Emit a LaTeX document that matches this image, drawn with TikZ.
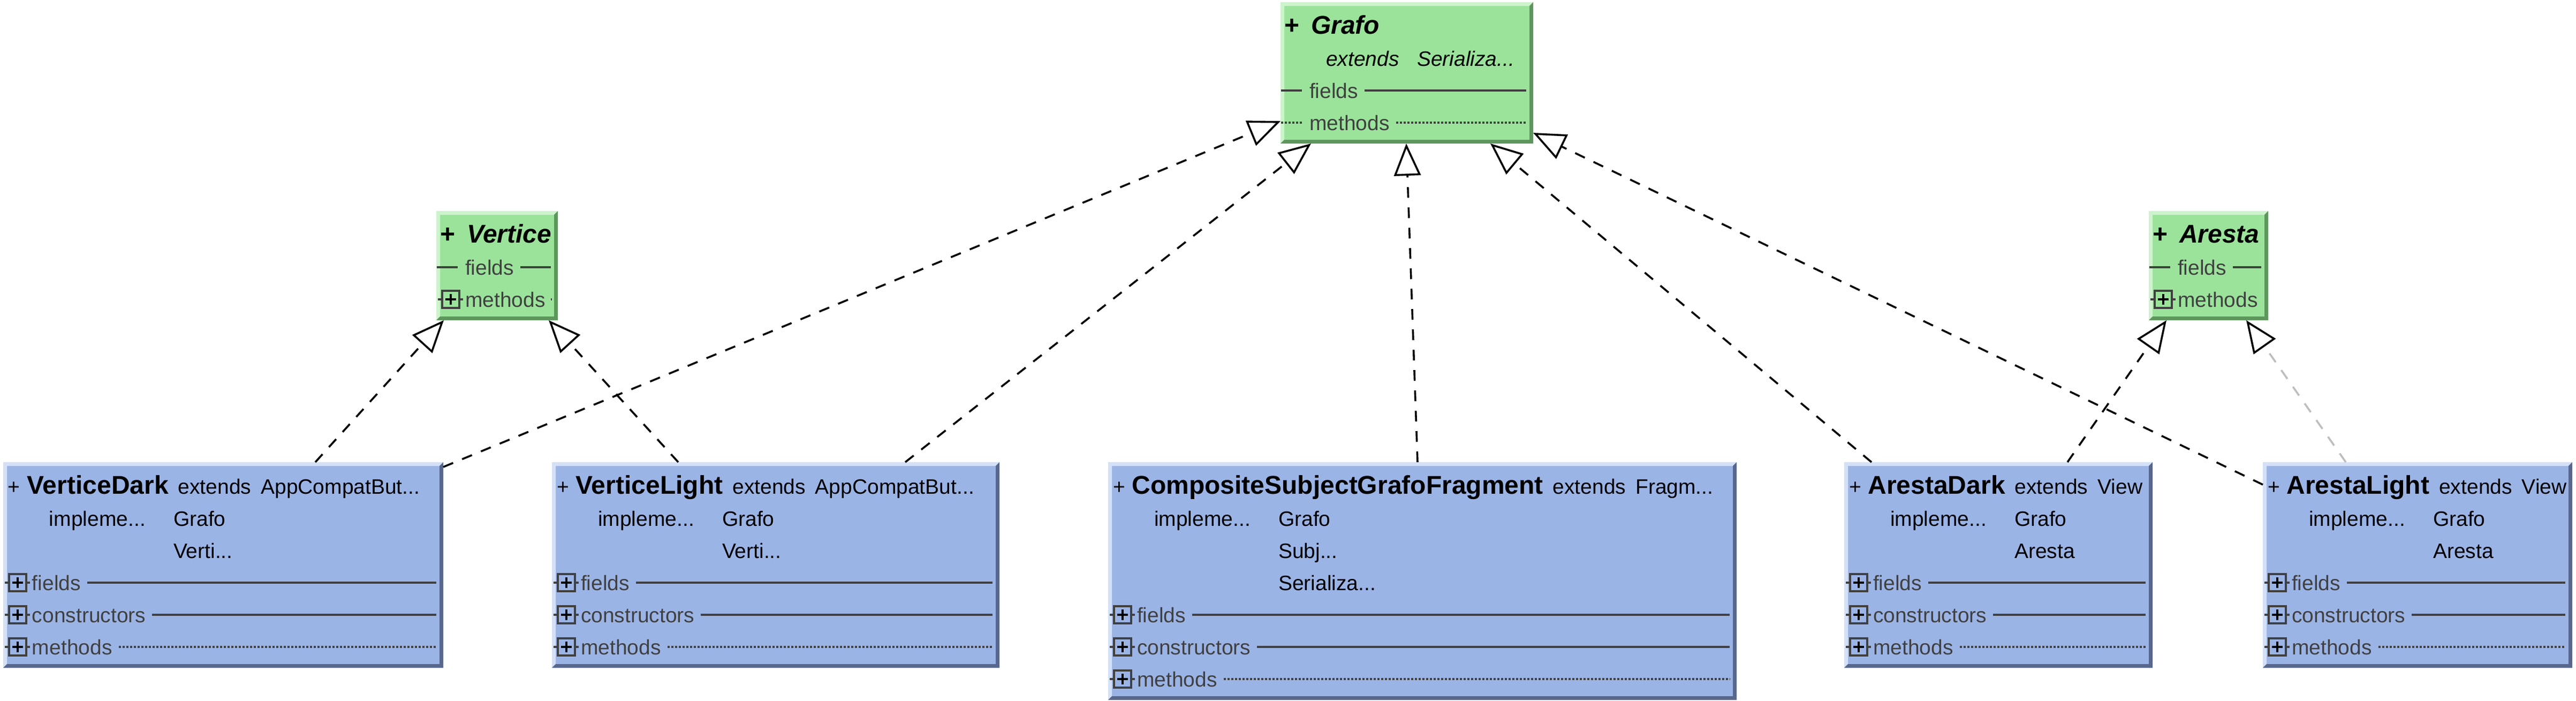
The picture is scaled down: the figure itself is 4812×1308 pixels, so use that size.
\documentclass[tikz,border=0pt]{standalone}
\usepackage{fontspec}
\setmainfont{Liberation Sans}
\usetikzlibrary{arrows.meta,calc}

\definecolor{gfill}{RGB}{155,227,155}
\definecolor{glight}{RGB}{205,243,205}
\definecolor{gdark}{RGB}{94,150,94}
\definecolor{bfill}{RGB}{155,180,230}
\definecolor{blight}{RGB}{212,224,247}
\definecolor{bdark}{RGB}{88,103,140}
\definecolor{secgray}{RGB}{64,64,64}
\definecolor{lightconn}{RGB}{190,190,190}

\newcommand{\normsz}{\fontsize{9.75pt}{11pt}\selectfont}
\newcommand{\namesz}{\fontsize{12pt}{14pt}\selectfont\bfseries}

\tikzset{
  txt/.style={inner sep=0pt, outer sep=0pt, font=\normsz, text=black},
  sectext/.style={txt, text=secgray},
  secline/.style={draw=secgray, line width=0.9pt},
  dotline/.style={dash pattern=on 1pt off 0.75pt},
  impl/.style={draw=black, line width=0.9pt, dash pattern=on 5pt off 4.5pt,
    -{Triangle[open, length=15pt, width=12.5pt, line width=0.9pt]}},
  impllight/.style={draw=lightconn, line width=0.9pt, dash pattern=on 5pt off 4.5pt,
    -{Triangle[open, length=15pt, width=12.5pt, line width=0.9pt, color=black]}}
}

% #1 name, #2 x1, #3 y1, #4 x2, #5 rows, #6 colour prefix
\newcommand{\umlbox}[6]{%
  \pgfmathsetmacro{\ybot}{#3+84+60*(#5-1)}%
  \node[anchor=north west, inner sep=0pt, outer sep=0pt,
        minimum width={(#4-#2)*0.25pt}, minimum height={(\ybot-#3)*0.25pt},
        fill=#6fill] (#1) at (#2,#3) {};
  \fill[#6light] (#2,#3) -- (#4,#3) -- (#4-7,#3+7) -- (#2+7,#3+7) -- (#2+7,\ybot-7) -- (#2,\ybot) -- cycle;
  \fill[#6dark] (#4,#3) -- (#4,\ybot) -- (#2,\ybot) -- (#2+7,\ybot-7) -- (#4-7,\ybot-7) -- (#4-7,#3+7) -- cycle;
}

% prefixes: #1 box x1, #2 baseline
\newcommand{\pfxplus}[2]{%
  \draw[secline] (#1+3,#2-14) -- (#1+11,#2-14) (#1+43,#2-14) -- (#1+50,#2-14);
  \draw[secline, line width=0.85pt] (#1+11,#2-30) rectangle (#1+43,#2+2);
  \draw[black, line width=1pt] (#1+17,#2-14) -- (#1+37,#2-14) (#1+27,#2-24) -- (#1+27,#2-4);
}
\newcommand{\pfxbar}[2]{\draw[secline] (#1+1,#2-14) -- (#1+40,#2-14);}
\newcommand{\pfxdots}[2]{\draw[secline,dotline] (#1+1,#2-14) -- (#1+40,#2-14);}

% #1 name, #2 x1, #3 x2, #4 baseline, #5 label, #6 prefix macro, #7 line style
\newcommand{\umlsect}[7]{%
  #6{#2}{#4}
  \node[sectext, anchor=base west] (#1) at (#2+54,#4) {#5};
  \draw[secline,#7] ($(#1.base east)+(12,-14)$) -- (#3-13,#4-14);
}

% #1 name, #2 x1, #3 baseline, #4 class, #5 superclass
\newcommand{\hdrblue}[5]{%
  \node[txt, anchor=base west] (#1) at (#2+9,#3)
    {+\hspace{3.2pt}{\namesz #4}\hspace{4.5pt}extends\hspace{4.5pt}#5};
}
% #1 name, #2 x1, #3 baseline, #4 interface
\newcommand{\hdrgreen}[4]{%
  \node[txt, anchor=base west] (#1) at (#2+7,#3)
    {{\namesz +}\hspace{5.5pt}{\namesz\itshape #4}};
}
% #1 name, #2 x1, #3 baseline, #4 left text, #5 right text
\newcommand{\implrow}[5]{%
  \node[txt, anchor=base west] (#1a) at (#2+86,#3) {#4};
  \node[txt, anchor=base west] (#1b) at (#2+318,#3) {#5};
}
\newcommand{\implmore}[4]{%
  \node[txt, anchor=base west] (#1) at (#2+318,#3) {#4};
}

\begin{document}
\begin{tikzpicture}[x=0.25pt,y=-0.25pt]
\useasboundingbox (0,0) rectangle (4812,1308);

% ---------- Grafo ----------
\umlbox{grafo}{2392}{4}{2864}{4}{g}
\hdrgreen{grafoH}{2392}{63}{Grafo}
\node[txt, anchor=base west] (grafoE) at (2477,123) {\itshape extends};
\node[txt, anchor=base west] (grafoS) at (2647,123) {\itshape Serializa...};
\umlsect{grafoF}{2392}{2864}{183}{fields}{\pfxbar}{}
\umlsect{grafoM}{2392}{2864}{243}{methods}{\pfxdots}{dotline}

% ---------- Vertice ----------
\umlbox{vertice}{815}{394}{1042}{3}{g}
\hdrgreen{verticeH}{815}{453}{Vertice}
\umlsect{verticeF}{815}{1042}{513}{fields}{\pfxbar}{}
\umlsect{verticeM}{815}{1042}{573}{methods}{\pfxplus}{dotline}

% ---------- Aresta ----------
\umlbox{aresta}{4014}{394}{4237}{3}{g}
\hdrgreen{arestaH}{4014}{453}{Aresta}
\umlsect{arestaF}{4014}{4237}{513}{fields}{\pfxbar}{}
\umlsect{arestaM}{4014}{4237}{573}{methods}{\pfxplus}{draw=none}

% ---------- VerticeDark ----------
\umlbox{vd}{6}{863}{828}{6}{b}
\hdrblue{vdH}{6}{922}{VerticeDark}{AppCompatBut...}
\implrow{vdI}{6}{982}{impleme...}{Grafo}
\implmore{vdI2}{6}{1042}{Verti...}
\umlsect{vdF}{6}{828}{1102}{fields}{\pfxplus}{}
\umlsect{vdC}{6}{828}{1162}{constructors}{\pfxplus}{}
\umlsect{vdM}{6}{828}{1222}{methods}{\pfxplus}{dotline}

% ---------- VerticeLight ----------
\umlbox{vl}{1031}{863}{1867}{6}{b}
\hdrblue{vlH}{1031}{922}{VerticeLight}{AppCompatBut...}
\implrow{vlI}{1031}{982}{impleme...}{Grafo}
\implmore{vlI2}{1031}{1042}{Verti...}
\umlsect{vlF}{1031}{1867}{1102}{fields}{\pfxplus}{}
\umlsect{vlC}{1031}{1867}{1162}{constructors}{\pfxplus}{}
\umlsect{vlM}{1031}{1867}{1222}{methods}{\pfxplus}{dotline}

% ---------- CompositeSubjectGrafoFragment ----------
\umlbox{comp}{2070}{863}{3244}{7}{b}
\hdrblue{compH}{2070}{922}{CompositeSubjectGrafoFragment}{Fragm...}
\implrow{compI}{2070}{982}{impleme...}{Grafo}
\implmore{compI2}{2070}{1042}{Subj...}
\implmore{compI3}{2070}{1102}{Serializa...}
\umlsect{compF}{2070}{3244}{1162}{fields}{\pfxplus}{}
\umlsect{compC}{2070}{3244}{1222}{constructors}{\pfxplus}{}
\umlsect{compM}{2070}{3244}{1282}{methods}{\pfxplus}{dotline}

% ---------- ArestaDark ----------
\umlbox{ad}{3445}{863}{4021}{6}{b}
\hdrblue{adH}{3445}{922}{ArestaDark}{View}
\implrow{adI}{3445}{982}{impleme...}{Grafo}
\implmore{adI2}{3445}{1042}{Aresta}
\umlsect{adF}{3445}{4021}{1102}{fields}{\pfxplus}{}
\umlsect{adC}{3445}{4021}{1162}{constructors}{\pfxplus}{}
\umlsect{adM}{3445}{4021}{1222}{methods}{\pfxplus}{dotline}

% ---------- ArestaLight ----------
\umlbox{al}{4227}{863}{4805}{6}{b}
\hdrblue{alH}{4227}{922}{ArestaLight}{View}
\implrow{alI}{4227}{982}{impleme...}{Grafo}
\implmore{alI2}{4227}{1042}{Aresta}
\umlsect{alF}{4227}{4805}{1102}{fields}{\pfxplus}{}
\umlsect{alC}{4227}{4805}{1162}{constructors}{\pfxplus}{}
\umlsect{alM}{4227}{4805}{1222}{methods}{\pfxplus}{dotline}

% ---------- connector end points ----------
\coordinate (vd-v) at (589,863);   \coordinate (v-vd) at (829,598);
\coordinate (vl-v) at (1267,863);  \coordinate (v-vl) at (1025,598);
\coordinate (vd-g) at (828,872);   \coordinate (g-vd) at (2392,226);
\coordinate (vl-g) at (1691,863);  \coordinate (g-vl) at (2449,268);
\coordinate (c-g)  at (2648,863);  \coordinate (g-c)  at (2627,268);
\coordinate (ad-g) at (3496,863);  \coordinate (g-ad) at (2784,268);
\coordinate (al-g) at (4227,905);  \coordinate (g-al) at (2864,248);
\coordinate (ad-a) at (3862,863);  \coordinate (a-ad) at (4047,598);
\coordinate (al-a) at (4382,863);  \coordinate (a-al) at (4196,598);

% ---------- connectors ----------
\draw[impl] (vd-v) -- (v-vd);
\draw[impl] (vl-v) -- (v-vl);
\draw[impl] (vd-g) -- (g-vd);
\draw[impl] (vl-g) -- (g-vl);
\draw[impl] (c-g) -- (g-c);
\draw[impl] (ad-g) -- (g-ad);
\draw[impl] (al-g) -- (g-al);
\draw[impl] (ad-a) -- (a-ad);
\draw[impllight] (al-a) -- (a-al);
\end{tikzpicture}
\end{document}
